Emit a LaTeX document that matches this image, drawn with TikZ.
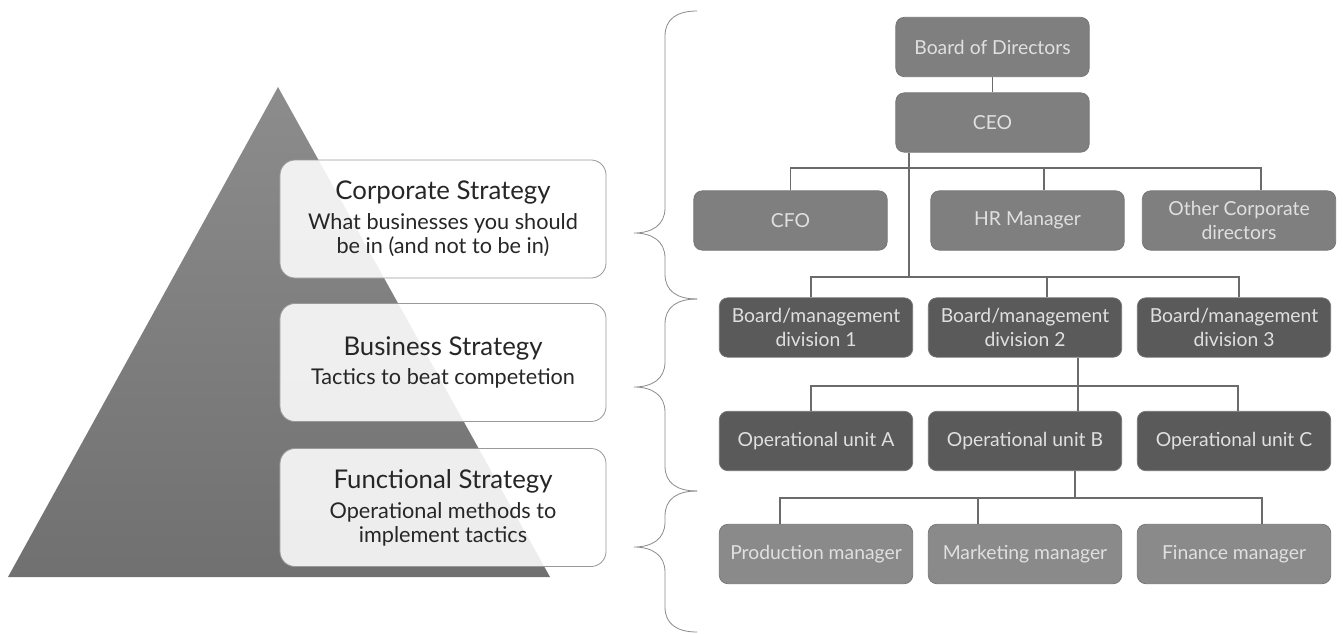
\documentclass[tikz,border=0pt]{standalone}
\usepackage{fontspec}
\setmainfont{Lato}

\newcommand{\stratbrace}[3]{% top, cusp, bottom
	\draw[brace line] (697,#1) .. controls (677,#1) and (665,{#1+8}) .. (665,{#1+25})
		-- (665,{#2-25}) .. controls (665,{#2-8}) and (652,#2) .. (634,#2)
		.. controls (652,#2) and (665,{#2+8}) .. (665,{#2+25})
		-- (665,{#3-25}) .. controls (665,{#3-8}) and (677,#3) .. (697,#3);}

\begin{document}
\begin{tikzpicture}[x=0.03cm, y=-0.03cm,
		level/.style={draw=gray!80, line width=0.7pt, fill=white, fill opacity=0.88, text opacity=1,
			rounded corners=0.45cm, minimum width=9.78cm, minimum height=3.54cm, align=center, inner sep=2pt,
			text=black!85, font=\fontsize{18.5}{20.5}\selectfont},
		orgbox/.style={draw=black!55, line width=0.6pt, rounded corners=0.25cm, text=white!88!black,
			minimum width=5.8cm, minimum height=1.78cm, align=center, inner sep=1pt,
			font=\fontsize{16.5}{20.5}\selectfont},
		link/.style={draw=black!58, line width=1.2pt},
		brace line/.style={draw=black!45, line width=0.7pt}]
		\useasboundingbox (0,0) rectangle (1343,633);

		\definecolor{topgray}{HTML}{7F7F7F}
		\definecolor{midgray}{HTML}{5A5A5A}
		\definecolor{lowgray}{HTML}{8A8A8A}

		% pyramid
		\shade[top color=black!45, bottom color=black!56] (278,87) -- (550,577) -- (8,577) -- cycle;

		% strategy levels
		\node[level] (corp) at (443,219) {{\fontsize{22}{20.5}\selectfont Corporate Strategy}\\[5pt]
			What businesses you should\\ be in (and not to be in)};
		\node[level] (bus) at (443,362.5) {{\fontsize{22}{20.5}\selectfont Business Strategy}\\[5pt]
			Tactics to beat competetion};
		\node[level] (func) at (443,507.5) {{\fontsize{22}{20.5}\selectfont Functional Strategy}\\[5pt]
			Operational methods to\\ implement tactics};

		% braces
		\stratbrace{11}{233}{299}
		\stratbrace{299}{387}{491}
		\stratbrace{491}{547}{632}

		% corporate level
		\node[orgbox, fill=topgray] (board) at (992.5,47) {Board of Directors};
		\node[orgbox, fill=topgray] (ceo) at (992.5,122.5) {CEO};
		\node[orgbox, fill=topgray] (cfo) at (790.5,220.5) {CFO};
		\node[orgbox, fill=topgray] (hr) at (1027.5,220.5) {HR Manager};
		\node[orgbox, fill=topgray] (other) at (1239,220.5) {Other Corporate\\directors};

		% business level
		\node[orgbox, fill=midgray] (div1) at (816,327.5) {Board/management\\division 1};
		\node[orgbox, fill=midgray] (div2) at (1025,327.5) {Board/management\\division 2};
		\node[orgbox, fill=midgray] (div3) at (1234,327.5) {Board/management\\division 3};
		\node[orgbox, fill=midgray] (opa) at (816,441) {Operational unit A};
		\node[orgbox, fill=midgray] (opb) at (1025,441) {Operational unit B};
		\node[orgbox, fill=midgray] (opc) at (1234,441) {Operational unit C};

		% functional level
		\node[orgbox, fill=lowgray] (prod) at (816,554) {Production manager};
		\node[orgbox, fill=lowgray] (mark) at (1025,554) {Marketing manager};
		\node[orgbox, fill=lowgray] (fin) at (1234,554) {Finance manager};

		% connectors
		\coordinate (t) at (909,277);
		\coordinate (c1) at (1044,168);
		\coordinate (c2) at (1261,168);
		\coordinate (d1) at (811,277);
		\coordinate (d2) at (1047,277);
		\coordinate (d3) at (1239,277);
		\coordinate (o1) at (811,386);
		\coordinate (o2) at (1078,386);
		\coordinate (o3) at (1238,386);
		\coordinate (m0) at (1075,498);
		\coordinate (m1) at (780,498);
		\coordinate (m2) at (978,498);
		\coordinate (m3) at (1262,498);

		\draw[link] (board) -- (ceo);
		\draw[link] (ceo.south -| t) -- (t);
		\draw[link] (cfo.north) |- (c2) -- (c2 |- other.north);
		\draw[link] (c1) -- (c1 |- hr.north);
		\draw[link] (d1 |- div1.north) -- (d1) -- (d3) -- (d3 |- div3.north);
		\draw[link] (d2) -- (d2 |- div2.north);
		\draw[link] (o2 |- div2.south) -- (o2 |- opb.north);
		\draw[link] (o1 |- opa.north) -- (o1) -- (o3) -- (o3 |- opc.north);
		\draw[link] (m0 |- opb.south) -- (m0);
		\draw[link] (m1 |- prod.north) -- (m1) -- (m3) -- (m3 |- fin.north);
		\draw[link] (m2) -- (m2 |- mark.north);
	\end{tikzpicture}
\end{document}
